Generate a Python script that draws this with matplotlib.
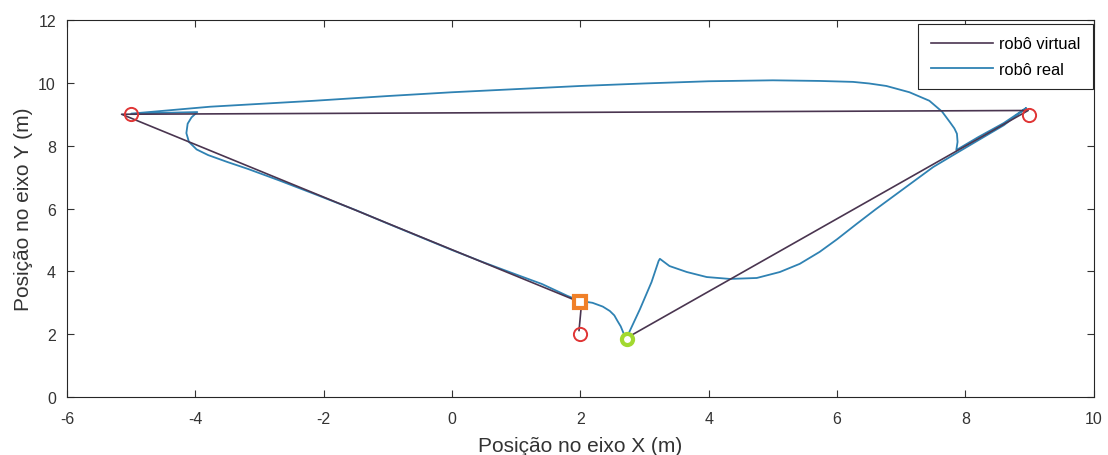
import matplotlib
matplotlib.use("Agg")
import matplotlib.pyplot as plt

plt.rcParams['font.family'] = ['Liberation Sans', 'DejaVu Sans']
plt.rcParams['axes.unicode_minus'] = False

# Virtual robot path
virtual_x = [2.72, 8.98, -5.15, 2.02, 1.98]
virtual_y = [1.88, 9.12, 9.00, 3.00, 2.12]

# Real robot path
real_x = [2.72, 2.93, 3.11, 3.22, 3.24, 3.39, 3.66, 3.97, 4.33, 4.75, 5.11, 5.42,
          5.73, 6.00, 6.30, 6.60, 6.90, 7.20, 7.50, 7.86, 8.20, 8.60, 8.95, 8.60,
          8.20, 7.86, 7.88, 7.87, 7.83, 7.76, 7.64, 7.44, 7.13, 6.77, 6.50, 6.25,
          5.73, 5.00, 4.00, 3.00, 2.00, 1.00, 0.00, -1.00, -2.14, -3.00, -3.77,
          -5.00, -3.97, -4.06, -4.12, -4.14, -4.10, -3.98, -3.80, -3.50, -3.18,
          -2.70, -2.14, -1.50, -1.00, -0.50, 0.00, 0.50, 1.00, 1.40, 1.80, 2.00,
          2.19, 2.35, 2.46, 2.53, 2.58, 2.63, 2.66, 2.70]
real_y = [1.88, 2.80, 3.66, 4.33, 4.40, 4.17, 3.98, 3.82, 3.76, 3.79, 3.98, 4.24,
          4.62, 5.02, 5.50, 5.97, 6.42, 6.87, 7.32, 7.76, 8.17, 8.65, 9.20, 8.72,
          8.27, 7.86, 8.12, 8.38, 8.55, 8.75, 9.08, 9.43, 9.70, 9.90, 9.98, 10.03,
          10.06, 10.08, 10.05, 9.98, 9.90, 9.80, 9.70, 9.58, 9.43, 9.33, 9.24,
          9.02, 9.07, 8.90, 8.70, 8.40, 8.12, 7.88, 7.70, 7.48, 7.26,
          6.90, 6.46, 5.95, 5.52, 5.10, 4.68, 4.28, 3.90, 3.60, 3.22, 3.06,
          3.00, 2.88, 2.74, 2.60, 2.42, 2.25, 2.10, 1.90]

# Waypoints, start and end markers
waypoints_x = [-5.0, 9.0, 2.0]
waypoints_y = [9.0, 8.98, 2.0]
start_x, start_y = [2.72], [1.85]
end_x, end_y = [2.0], [3.03]

xticks = [-6, -4, -2, 0, 2, 4, 6, 8, 10]
yticks = [0, 2, 4, 6, 8, 10, 12]

fig = plt.figure(figsize=(11.08, 4.56), dpi=100)
ax = fig.add_axes([0.0605, 0.127, 0.987 - 0.0605, 0.954 - 0.127])

ax.plot(virtual_x, virtual_y, color='#4a3550', lw=1.2, label='robô virtual', zorder=3)
ax.plot(real_x, real_y, color='#2f82b3', lw=1.3, label='robô real', zorder=2)
ax.plot(waypoints_x, waypoints_y, linestyle='none', marker='o', ms=9.5,
        mfc='none', mec='#e03535', mew=1.4, zorder=4)
ax.plot(start_x, start_y, linestyle='none', marker='o', ms=8,
        mfc='white', mec='#a2d930', mew=3, zorder=5)
ax.plot(end_x, end_y, linestyle='none', marker='s', ms=8,
        mfc='white', mec='#f08028', mew=3, zorder=5)

ax.set_xlim(-6, 10)
ax.set_ylim(0, 12)
ax.set_xticks(xticks)
ax.set_yticks(yticks)
ax.tick_params(direction='in', length=5, width=0.8, top=True, right=True,
               labelsize=11.5, colors='#333333')
ax.tick_params(axis='x', pad=10)
ax.tick_params(axis='y', pad=8)
for s in ax.spines.values():
    s.set_color('#262626')
    s.set_linewidth(0.8)

ax.set_xlabel('Posição no eixo X (m)', fontsize=15, color='#333333', labelpad=7)
ax.set_ylabel('Posição no eixo Y (m)', fontsize=15, color='#333333', labelpad=4)

leg = ax.legend(loc='upper right', bbox_to_anchor=(0.9995, 0.989), borderaxespad=0,
                fontsize=11.8, handlelength=3.8, handletextpad=0.4, frameon=True,
                fancybox=False, edgecolor='#262626', framealpha=1, borderpad=0.75,
                labelspacing=0.62)
leg.get_frame().set_linewidth(0.8)

fig.savefig('out.png', dpi=100)
